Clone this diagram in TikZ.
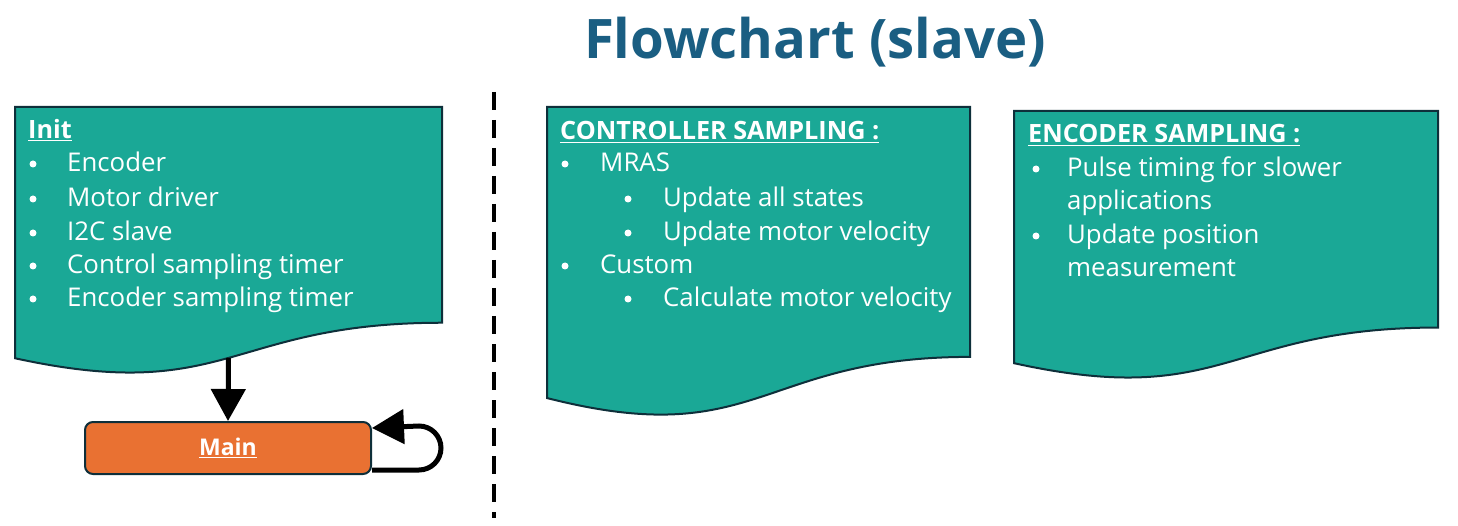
\documentclass[tikz,border=0pt]{standalone}
\usepackage{fontspec}
\setmainfont{Open Sans}
\usepackage{xcolor}
\usepackage{tikz}
\usetikzlibrary{arrows.meta,calc}
\definecolor{docteal}{HTML}{1AA896}
\definecolor{docedge}{HTML}{0E2F3A}
\definecolor{mainorange}{HTML}{E97132}
\definecolor{titleblue}{HTML}{1A5E82}

% wavy document box: x, y, width, height
\newcommand{\docbox}[4]{%
  \draw[docstyle] (#1,#2) -- ++(#3,0) -- ({#1+#3},{#2+0.802*#4})
    .. controls ({#1+0.5*#3},{#2+0.802*#4}) and ({#1+0.5*#3},{#2+1.107*#4}) .. ({#1},{#2+0.934*#4}) -- cycle;}

\begin{document}
\begin{tikzpicture}[x=1pt,y=-1pt,
    docstyle/.style={fill=docteal,draw=docedge,line width=2pt},
    txt/.style={anchor=base west,text=white,inner sep=0,font=\fontsize{25.8}{30}\selectfont},
    head/.style={txt,font=\fontsize{25.2}{30}\selectfont\bfseries},
    bul/.style={circle,fill=white,inner sep=0,minimum size=7pt},
    bigarrow/.style={line width=5pt,-{Triangle[length=32pt,width=34pt]}},
    mainbox/.style={fill=mainorange,draw=docedge,line width=2pt,rounded corners=8pt,
      minimum width=286pt,minimum height=52pt,text=white,font=\fontsize{23}{26}\selectfont\bfseries}]
  \useasboundingbox (0,0) rectangle (1458,526);

  \node[text=titleblue,font=\fontsize{54.5}{60}\selectfont\bfseries] (title) at (815,42) {Flowchart (slave)};

  % separator
  \coordinate (septop) at (494,92);
  \coordinate (sepbot) at (494,518);
  \draw[line width=4pt,dash pattern=on 18pt off 10pt] (septop) -- (sepbot);

  % Init
  \docbox{15}{107}{427}{269}
  \node[head] (inithead) at (28,139) {\underline{Init}};
  \foreach \ytxt/\name/\label in {172/i1/Encoder,207/i2/Motor driver,241/i3/I2C slave,
      274/i4/Control sampling timer,307/i5/Encoder sampling timer} {
    \node[bul] (\name b) at (33,\ytxt-8) {};
    \node[txt] (\name) at (67,\ytxt) {\label};
  }
  \coordinate (initbot) at (228.5,358);

  \node[mainbox] (main) at (228,448) {\underline{Main}};
  \draw[bigarrow] (initbot) -- (main.north);
  \draw[bigarrow]
    ([yshift=-22pt]main.east) -- ++(47,0) arc[start angle=90,end angle=-90,radius=22] -- ([yshift=20pt]main.east);

  % controller sampling
  \docbox{547}{107}{423}{311.6}
  \node[head] (ctrlhead) at (560,140) {\underline{CONTROLLER SAMPLING :}};
  \foreach \xb/\xt/\ytxt/\name/\label in {565/600/172/c1/MRAS,628/663/207/c2/Update all states,
      628/663/241/c3/Update motor velocity,565/600/274/c4/Custom,628/663/307/c5/Calculate motor velocity} {
    \node[bul] (\name b) at (\xb,\ytxt-8) {};
    \node[txt] (\name) at (\xt,\ytxt) {\label};
  }

  % encoder sampling
  \docbox{1014}{111}{424}{270}
  \node[head] (enchead) at (1028,143) {\underline{ENCODER SAMPLING :}};
  \foreach \ytxt/\name/\label in {177/e1/Pulse timing for slower,210/e2/applications,
      244/e3/Update position,277/e4/measurement} {
    \node[txt] (\name) at (1067,\ytxt) {\label};
  }
  \node[bul] (e1b) at (1036,169) {};
  \node[bul] (e3b) at (1036,236) {};
\end{tikzpicture}
\end{document}
